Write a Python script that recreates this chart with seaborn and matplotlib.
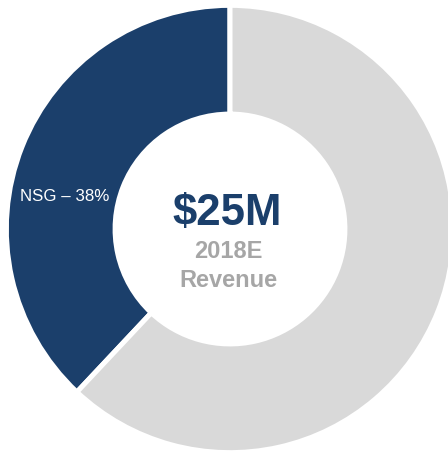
import matplotlib
matplotlib.use("Agg")
import matplotlib.pyplot as plt
import seaborn as sns

# Revenue split
segments = ["NSG", "Other"]
shares = [38, 62]
segment_colors = ["#1B3F6B", "#D9D9D9"]
label_text = "NSG – 38%"
headline = "$25M"
sub_lines = ["2018E", "Revenue"]

sns.set_theme(style="white")
plt.rcParams["font.family"] = ["Liberation Sans", "DejaVu Sans"]
palette = sns.color_palette(segment_colors)

W, H = 448, 452
fig = plt.figure(figsize=(W / 100, H / 100), dpi=100)
ax = fig.add_axes([0, 0, 1, 1])

# pixel geometry of the ring
cx, cy, r_px = 230, 230, 221
scale = r_px


def to_data(px, py):
    return (px - cx) / scale, (cy - py) / scale


ax.pie(
    shares,
    colors=palette,
    startangle=90,
    counterclock=True,
    radius=1.012,
    wedgeprops=dict(width=0.492, edgecolor="white", linewidth=3.6),
)

ax.set_xlim(-cx / scale, (W - cx) / scale)
ax.set_ylim(-(H - cy) / scale, cy / scale)
ax.set_aspect("equal", adjustable="box")
ax.axis("off")

x, y = to_data(227.5, 225)
ax.text(x, y, headline, ha="center", va="baseline", fontsize=31.5,
        fontweight="bold", color=segment_colors[0])
x, y = to_data(228, 258)
ax.text(x, y, sub_lines[0], ha="center", va="baseline", fontsize=17,
        fontweight="bold", color="#A6A6A6")
x, y = to_data(228, 287)
ax.text(x, y, sub_lines[1], ha="center", va="baseline", fontsize=17,
        fontweight="bold", color="#A6A6A6")
x, y = to_data(65, 201.5)
ax.text(x, y, label_text, ha="center", va="baseline", fontsize=12.2,
        color="white")

fig.savefig("out.png", dpi=100, facecolor="white")
